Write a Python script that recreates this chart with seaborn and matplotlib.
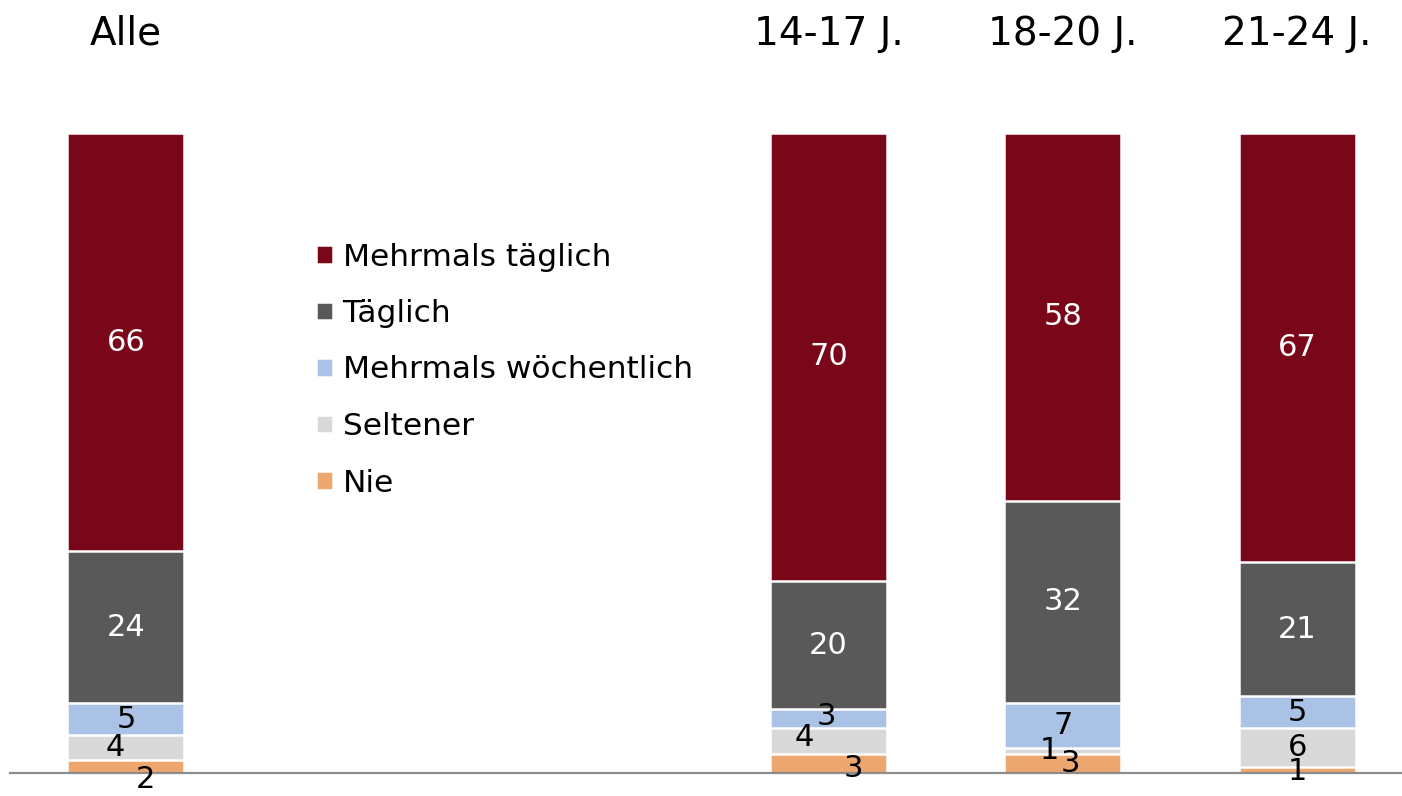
import numpy as np
import pandas as pd
import seaborn as sns
import matplotlib.pyplot as plt

groups = ["Alle", "14-17 J.", "18-20 J.", "21-24 J."]
xpos = [0, 3, 4, 5]
series = ["Mehrmals täglich", "Täglich", "Mehrmals wöchentlich", "Seltener", "Nie"]
mehrmals_taeglich = [66, 70, 58, 67]
taeglich = [24, 20, 32, 21]
woechentlich = [5, 3, 7, 5]
seltener = [4, 4, 1, 6]
nie = [2, 3, 3, 1]
colors = ["#7A0719", "#595959", "#A9C2E6", "#D9D9D9", "#EDA66D"]
text_colors = ["white", "white", "black", "black", "black"]

# label nudges in pixels for crowded small segments: (series, group) -> (dx, dy)
nudges = {
    (3, 0): (-11, 0), (4, 0): (19, -13),
    (2, 1): (-2, 2), (3, 1): (-24, 3), (4, 1): (25, -5),
    (3, 2): (-13, 0), (4, 2): (8, 0),
    (4, 3): (0, -2),
}

sns.set_style("white")
plt.rcParams['font.family'] = ['DejaVu Sans']
plt.rcParams['text.color'] = 'black'

vals = np.array([mehrmals_taeglich, taeglich, woechentlich, seltener, nie], dtype=float)
vals = vals / vals.sum(axis=0) * 100  # bars are drawn to 100 %
# cumulative from bottom (Nie) upwards
cum = np.cumsum(vals[::-1], axis=0)[::-1]

fig = plt.figure(figsize=(14.02, 7.96), dpi=100)
ax = fig.add_axes([10 / 1402, 23 / 796, 1392 / 1402, 640 / 796])

for i, name in enumerate(series):
    df = pd.DataFrame({"x": xpos, "y": cum[i]})
    sns.barplot(data=df, x="x", y="y", native_scale=True, orient="x", width=0.5,
                color=colors[i], saturation=1, edgecolor="white", linewidth=1.8,
                errorbar=None, label=name, ax=ax)

raw_vals = [mehrmals_taeglich, taeglich, woechentlich, seltener, nie]
for i in range(len(series)):
    for j in range(len(groups)):
        yc = cum[i][j] - vals[i][j] / 2
        dx, dy = nudges.get((i, j), (0, 0))
        ax.annotate(str(raw_vals[i][j]), (xpos[j], yc), xytext=(dx, dy),
                    textcoords="offset pixels", ha="center", va="center",
                    fontsize=22, color=text_colors[i], annotation_clip=False)

for j, g in enumerate(groups):
    ax.text(xpos[j], 115.5, g, ha="center", va="center", fontsize=28,
            color="black", clip_on=False)

ax.set_xlim(-0.495, 5.448)
ax.set_ylim(0, 100)
ax.set_xticks([])
ax.set_yticks([])
ax.set_xlabel("")
ax.set_ylabel("")
for s in ["top", "left", "right"]:
    ax.spines[s].set_visible(False)
ax.spines["bottom"].set_color("#8C8C8C")
ax.spines["bottom"].set_linewidth(1.6)

leg = ax.legend(loc="center left", bbox_to_anchor=(316 / 1402, 1 - 370 / 796),
                bbox_transform=fig.transFigure, frameon=False, fontsize=22.5,
                handlelength=0.55, handleheight=0.55, handletextpad=0.3,
                labelspacing=0.88, borderpad=0, borderaxespad=0)
for t in leg.get_texts():
    t.set_color("black")

fig.savefig("out.png", dpi=100)
